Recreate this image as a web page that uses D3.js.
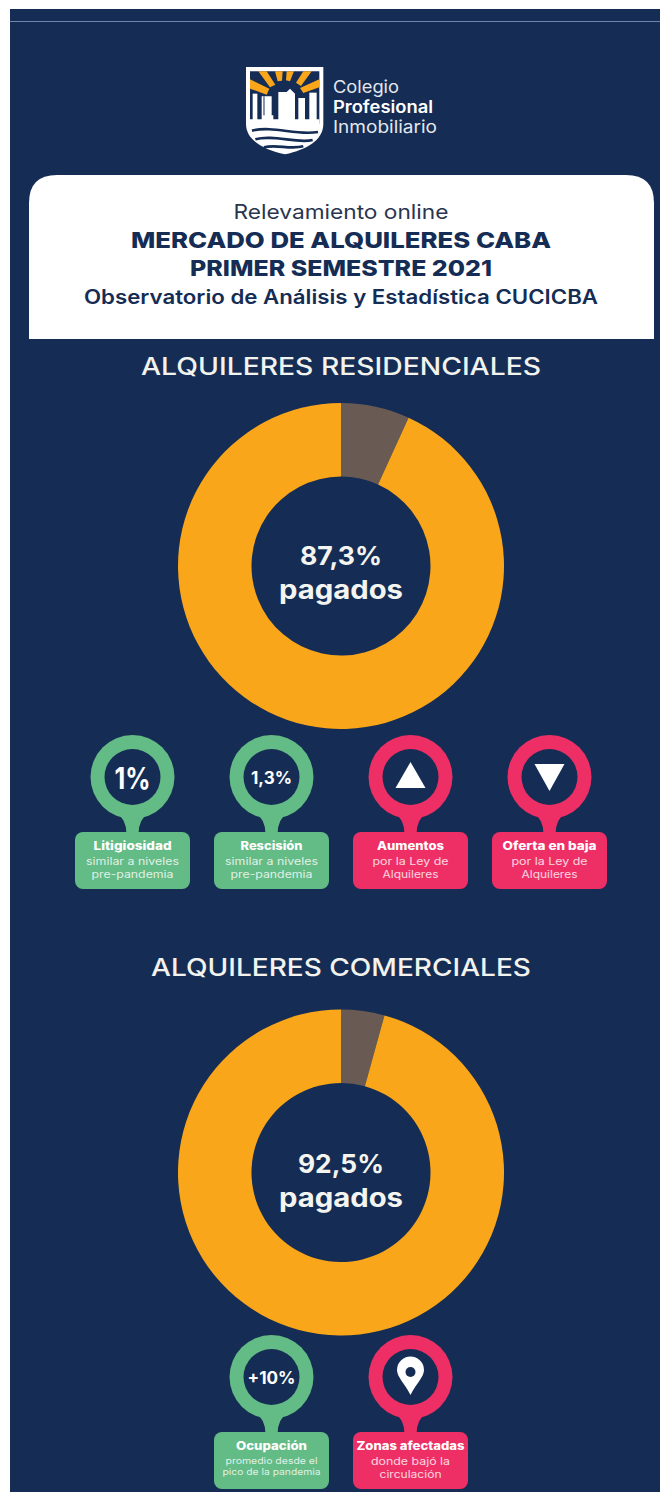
<!DOCTYPE html>
<html><head><meta charset="utf-8">
<script src="https://cdn.jsdelivr.net/npm/d3@7/dist/d3.min.js"></script>
<style>html,body{margin:0;padding:0;background:#fff}svg{display:block}text{font-family:Inter,"Open Sans",sans-serif}</style>
</head><body><div id="chart"></div>
<script>
// data
const titleLines = ["Relevamiento online","MERCADO DE ALQUILERES CABA","PRIMER SEMESTRE 2021","Observatorio de Análisis y Estadística CUCICBA"];
const logoLines = ["Colegio","Profesional","Inmobiliario"];
const sectionNames = ["ALQUILERES RESIDENCIALES","ALQUILERES COMERCIALES"];
const centerLabels = ["87,3%","92,5%"];
const centerWord = "pagados";
const sliceNames = ["impagos","pagados"];
const residentialSlices = [6.8,93.2];
const commercialSlices = [4.3,95.7];
const residentialCards = [
 {slot:0,kind:"g",big:"1%",title:"Litigiosidad",sub:["similar a niveles","pre-pandemia"]},
 {slot:1,kind:"g",big:"1,3%",title:"Rescisión",sub:["similar a niveles","pre-pandemia"]},
 {slot:2,kind:"p",icon:"up",title:"Aumentos",sub:["por la Ley de","Alquileres"]},
 {slot:3,kind:"p",icon:"down",title:"Oferta en baja",sub:["por la Ley de","Alquileres"]}];
const commercialCards = [
 {slot:1,kind:"g",big:"+10%",title:"Ocupación",sub:["promedio desde el","pico de la pandemia"]},
 {slot:2,kind:"p",icon:"pin",title:"Zonas afectadas",sub:["donde bajó la","circulación"]}];

// rendered text widths, styling only
const fit = {"Litigiosidad":78,"Rescisión":62,"Aumentos":67,"Oferta en baja":94,"Ocupación":71,"Zonas afectadas":108,
 "similar a niveles":93,"pre-pandemia":82,"por la Ley de":76,"Alquileres":56,"promedio desde el":92,"pico de la pandemia":98,
 "donde bajó la":79,"circulación":62,"1%":36,"1,3%":41,"+10%":48};

const W=660,H=1492,NAVY="#152d54",ORANGE="#faa61a",BROWN="#6a5a54",GREEN="#63bb85",PINK="#ee2f66";
const svg=d3.select("#chart").append("svg").attr("width",W).attr("height",H);
svg.append("rect").attr("x",10).attr("y",9).attr("width",W-10).attr("height",H-9).attr("fill",NAVY);
svg.append("line").attr("x1",10).attr("x2",W).attr("y1",21.5).attr("y2",21.5).attr("stroke","#6f86a8").attr("stroke-width",1);

function txt(g,s,x,y,size,weight,fill,len,op){
  const t=g.append("text").attr("x",x).attr("y",y).attr("text-anchor","middle").attr("font-size",size).attr("font-weight",weight).attr("fill",fill).text(s);
  if(len) t.attr("textLength",len).attr("lengthAdjust","spacingAndGlyphs");
  if(op) t.attr("opacity",op);
  return t;
}
// logo
const lg=svg.append("g").attr("transform","translate(240,62) scale(0.3333)");
lg.append("path").attr("fill","#fff").attr("d","M18,15H250V185C250,235 200,262 135,277C70,262 18,235 18,185Z");
lg.append("path").attr("fill",NAVY).attr("d","M30,28H238V185H30Z");
["M30,52L88,80L80,98L30,80Z","M55,28H80L106,68L90,76Z","M105,28H128L126,56L113,58Z","M140,28H162L150,58L138,55Z","M190,28H215L183,72L168,62Z","M238,52V76L190,93L180,78Z"]
 .forEach(d=>lg.append("path").attr("fill",ORANGE).attr("d",d));
["M38,95H52V185H38Z","M65,103H95V160H100V185H65Z","M115,90H140L150,80L165,95V185H115Z","M175,108H195V185H175Z","M208,92H230V185H208Z"]
 .forEach(d=>lg.append("path").attr("fill","#fff").attr("d",d));
lg.append("path").attr("fill","none").attr("stroke",NAVY).attr("stroke-width",3).attr("d","M72,103V160");
lg.append("path").attr("fill","#fff").attr("d","M30,172H238V195H30Z");
["M36,206C100,190 170,222 234,210","M46,232C100,216 170,246 218,234","M72,256C110,246 150,264 190,253"]
 .forEach(d=>lg.append("path").attr("fill","none").attr("stroke",NAVY).attr("stroke-width",8).attr("d",d));
logoLines.forEach((s,i)=>{
  svg.append("text").attr("x",333).attr("y",[93,113,133][i]).attr("font-size",17).attr("font-weight",i==1?600:400)
     .attr("fill",i==1?"#fff":"#e4e8ee").attr("textLength",[66,100,104][i]).attr("lengthAdjust","spacingAndGlyphs").text(s);
});
// header card
svg.append("path").attr("fill","#fff").attr("d","M29,339V203Q29,175 57,175H626Q654,175 654,203V339Z");
txt(svg,titleLines[0],341,219,20,400,"#2a3550",215);
txt(svg,titleLines[1],341,248,22,800,NAVY,420);
txt(svg,titleLines[2],341,276,22,800,NAVY,302);
txt(svg,titleLines[3],341,304,19.5,600,NAVY,514);
// sections
const pie=d3.pie().sort(null).value(d=>d);
const arc=d3.arc();
const colour=d3.scaleOrdinal().domain(sliceNames).range([BROWN,ORANGE]);
function donut(cy,values){
  const g=svg.append("g").attr("transform",`translate(341,${cy})`);
  g.selectAll("path").data(pie(values)).join("path")
   .attr("d",d=>arc({...d,innerRadius:89.5,outerRadius:163}))
   .attr("fill",(d,i)=>colour(sliceNames[i]));
}
txt(svg,sectionNames[0],341,374.5,24,500,"#f2f2ee",400);
donut(566,residentialSlices);
txt(svg,centerLabels[0],341,565,26,700,"#f4f4f0",82);
txt(svg,centerWord,341,599,26,700,"#f4f4f0",124);
txt(svg,sectionNames[1],341,976,24,500,"#f2f2ee",380);
donut(1172.5,commercialSlices);
txt(svg,centerLabels[1],341,1172.5,26,700,"#f4f4f0",86);
txt(svg,centerWord,341,1207,26,700,"#f4f4f0",124);
// cards
const slotX=d3.scalePoint().domain([0,1,2,3]).range([132.5,549.5]);
function cards(data,cy){
  const top=cy+55, col=d=>d.kind=="g"?GREEN:PINK;
  const g=svg.selectAll(null).data(data).join("g").attr("transform",d=>`translate(${slotX(d.slot)},0)`);
  g.append("path").attr("fill",col).attr("d",`M-17,${cy+35}Q-6,${cy+42} -6,${top+2}H6Q6,${cy+42} 17,${cy+35}Z`);
  g.append("circle").attr("cy",cy).attr("r",42).attr("fill",col);
  g.append("circle").attr("cy",cy).attr("r",28).attr("fill",NAVY);
  g.append("rect").attr("x",-57.5).attr("y",top).attr("width",115).attr("height",57).attr("rx",8).attr("fill",col);
  g.each(function(d){
    const s=d3.select(this);
    if(d.big){
      const big=d.big=="1%";
      txt(s,d.big,0,cy+(big?12:7),big?30:17,700,"#fff",fit[d.big]);
    }
    if(d.icon=="up") s.append("path").attr("fill","#fff").attr("d",`M0,${cy-15}L15,${cy+11}H-15Z`);
    if(d.icon=="down") s.append("path").attr("fill","#fff").attr("d",`M-15,${cy-13}H15L0,${cy+14}Z`);
    if(d.icon=="pin"){
      s.append("path").attr("fill","#fff").attr("d",`M0,${cy+18}C-6,${cy+6} -13.5,${cy} -13.5,${cy-7}A13.5,13.5 0 1 1 13.5,${cy-7}C13.5,${cy} 6,${cy+6} 0,${cy+18}Z`);
      s.append("circle").attr("cy",cy-5).attr("r",5).attr("fill",NAVY);
    }
    txt(s,d.title,0,top+17.5,11.5,800,"#fff",fit[d.title]);
    const small=d.title=="Ocupación";
    d.sub.forEach((l,i)=>txt(s,l,0,top+(small?32:33)+i*(small?10.5:12.5),small?8.5:10,400,"#fff",fit[l],0.8));
  });
}
cards(residentialCards,777);
cards(commercialCards,1377);
</script></body></html>
